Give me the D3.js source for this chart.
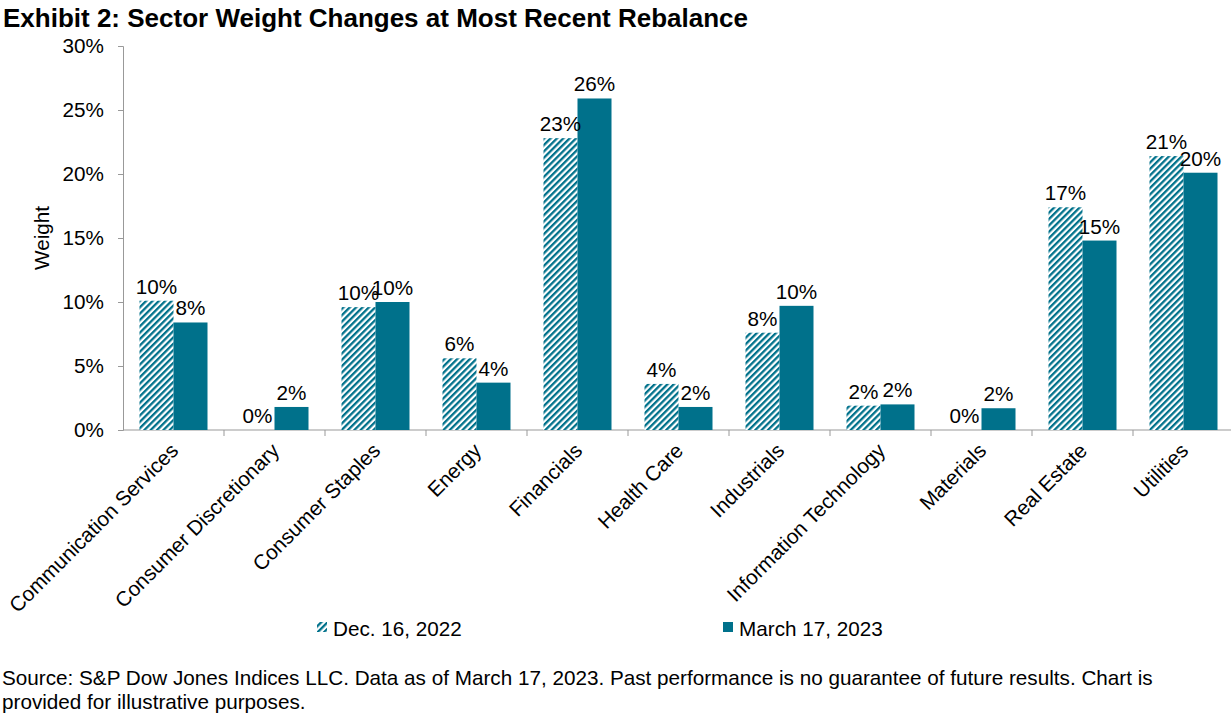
<!DOCTYPE html>
<html><head><meta charset="utf-8">
<script src="https://cdn.jsdelivr.net/npm/d3@7"></script>
<style>body{margin:0;background:#fff;font-family:Arial,"Liberation Sans",sans-serif;}</style>
</head><body>
<svg id="c" width="1231" height="717"></svg>
<script>
const categories = ["Communication Services","Consumer Discretionary","Consumer Staples","Energy","Financials","Health Care","Industrials","Information Technology","Materials","Real Estate","Utilities"];
const dec2022 = [10.1, 0.0, 9.6, 5.6, 22.8, 3.6, 7.6, 1.9, 0.0, 17.4, 21.4];
const mar2023 = [8.4, 1.8, 10.0, 3.7, 25.9, 1.8, 9.7, 2.0, 1.7, 14.8, 20.1];
const seriesNames = ["Dec. 16, 2022", "March 17, 2023"];
const yTicks = [0, 5, 10, 15, 20, 25, 30];

const teal = "#00718B";
const fs = 20.7;
const svg = d3.select("#c");
const defs = svg.append("defs");
const pat = defs.append("pattern").attr("id","hatch").attr("patternUnits","userSpaceOnUse")
  .attr("width",4.5).attr("height",4.5).attr("patternTransform","rotate(45)");
pat.append("rect").attr("width",4.5).attr("height",4.5).attr("fill","#fff");
pat.append("rect").attr("width",2.3).attr("height",4.5).attr("fill",teal);

const mLeft = 123, mRight = 1234, mTop = 46, mBottom = 430;
const x = d3.scaleBand().domain(categories).range([mLeft, mRight]);
const y = d3.scaleLinear().domain([0, 30]).range([mBottom, mTop]);
const barW = 34;

// title
svg.append("text").attr("x",3).attr("y",27).attr("font-size",26).attr("font-weight","bold")
  .text("Exhibit 2: Sector Weight Changes at Most Recent Rebalance");

// y axis
const gy = svg.append("g").attr("transform",`translate(${mLeft},0)`)
  .call(d3.axisLeft(y).tickValues(yTicks).tickSize(5).tickPadding(14).tickFormat(d=>d+"%"));
gy.select(".domain").attr("stroke","#999");
gy.selectAll(".tick line").attr("stroke","#999");
gy.selectAll("text").attr("font-size",fs).attr("fill","#000").attr("font-family","Arial,'Liberation Sans',sans-serif");

// x axis
const gx = svg.append("g").attr("transform",`translate(0,${mBottom})`);
gx.append("line").attr("x1",mLeft).attr("x2",mRight).attr("stroke","#999");
gx.selectAll("line.t").data(categories.slice(1)).enter().append("line")
  .attr("x1",d=>x(d)).attr("x2",d=>x(d)).attr("y1",0).attr("y2",6).attr("stroke","#999");
gx.selectAll("text.c").data(categories).enter().append("text")
  .attr("transform",d=>`translate(${x(d)+x.bandwidth()/2+6},${22}) rotate(-45)`)
  .attr("text-anchor","end").attr("font-size",fs).text(d=>d);

// bars
const cx = d => x(d) + x.bandwidth()/2;
const g = svg.append("g");
g.selectAll("rect.a").data(categories).enter().append("rect")
  .attr("x",d=>cx(d)-barW).attr("width",barW)
  .attr("y",(d,i)=>y(dec2022[i])).attr("height",(d,i)=>mBottom-y(dec2022[i]))
  .attr("fill","url(#hatch)");
g.selectAll("rect.b").data(categories).enter().append("rect")
  .attr("x",d=>cx(d)).attr("width",barW)
  .attr("y",(d,i)=>y(mar2023[i])).attr("height",(d,i)=>mBottom-y(mar2023[i]))
  .attr("fill",teal);

// labels
g.selectAll("text.la").data(categories).enter().append("text")
  .attr("x",d=>cx(d)-barW/2).attr("y",(d,i)=>y(dec2022[i])-7)
  .attr("text-anchor","middle").attr("font-size",fs).text((d,i)=>Math.round(dec2022[i])+"%");
g.selectAll("text.lb").data(categories).enter().append("text")
  .attr("x",d=>cx(d)+barW/2).attr("y",(d,i)=>y(mar2023[i])-7)
  .attr("text-anchor","middle").attr("font-size",fs).text((d,i)=>Math.round(mar2023[i])+"%");

// y title
svg.append("text").attr("transform","translate(49,238) rotate(-90)").attr("text-anchor","middle")
  .attr("font-size",fs).text("Weight");

// legend
const leg = [{x:317, fill:"url(#hatch)"},{x:723, fill:teal}];
leg.forEach((l,i)=>{
  svg.append("rect").attr("x",l.x).attr("y",622).attr("width",10).attr("height",10).attr("fill",l.fill);
  svg.append("text").attr("x",l.x+16).attr("y",636).attr("font-size",fs).text(seriesNames[i]);
});

// source
svg.append("text").attr("x",2).attr("y",685).attr("font-size",fs)
  .text("Source: S&P Dow Jones Indices LLC. Data as of March 17, 2023. Past performance is no guarantee of future results. Chart is");
svg.append("text").attr("x",2).attr("y",709).attr("font-size",fs)
  .text("provided for illustrative purposes.");
</script>
</body></html>
